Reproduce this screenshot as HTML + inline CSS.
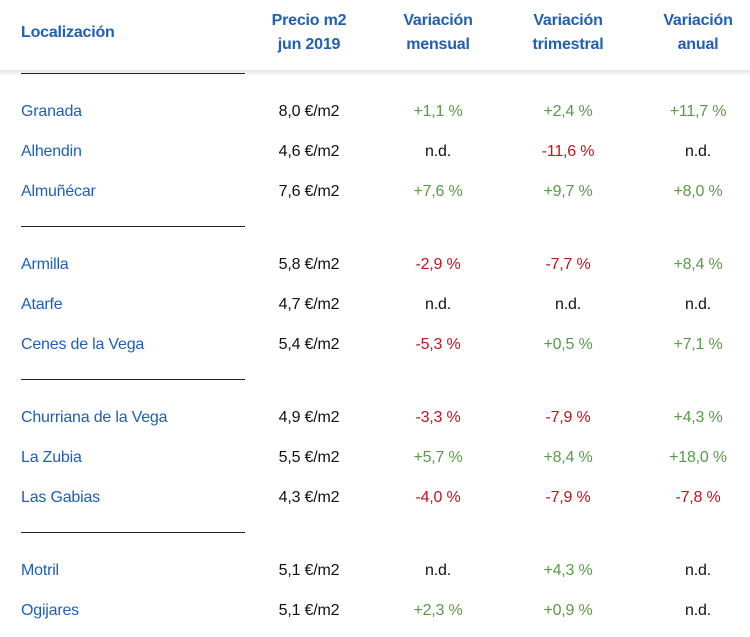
<!DOCTYPE html>
<html><head><meta charset="utf-8"><style>
body{margin:0;width:750px;height:637px;background:#fff;overflow:hidden;font-family:"Liberation Sans",sans-serif;font-size:16px;position:relative;letter-spacing:-0.2px}
.h{position:absolute;color:#1f5fb5;font-weight:bold;text-align:center;line-height:24px;width:140px}
.shadow{position:absolute;left:0;top:70px;width:750px;height:6px;background:linear-gradient(#e4e4e4,#fff)}
.ln{position:absolute;left:21px;width:224px;height:1px;background:#222}
.r{position:absolute;left:0;width:750px;height:20px;line-height:20px}
.r span{position:absolute;text-align:center;width:140px;top:0}
.r .n{left:21px;text-align:left;color:#1f5fb5;width:220px}
.c1{left:239px;color:#111}.c2{left:368px}.c3{left:498px}.c4{left:628px}
.g{color:#5a9a48}.d{color:#c0141c}.k{color:#111}
</style></head><body>
<div class="shadow"></div>
<div class="h" style="left:21px;top:21px;text-align:left">Localización</div>
<div class="h" style="left:239px;top:9px">Precio m2<br>jun 2019</div>
<div class="h" style="left:368px;top:9px">Variación<br>mensual</div>
<div class="h" style="left:498px;top:9px">Variación<br>trimestral</div>
<div class="h" style="left:628px;top:9px">Variación<br>anual</div>
<div class="ln" style="top:73px"></div>
<div class="ln" style="top:226px"></div>
<div class="ln" style="top:379px"></div>
<div class="ln" style="top:532px"></div>
<div class="r" style="top:102px"><span class="n">Granada</span><span class="c1">8,0 €/m2</span><span class="c2 g">+1,1 %</span><span class="c3 g">+2,4 %</span><span class="c4 g">+11,7 %</span></div>
<div class="r" style="top:142px"><span class="n">Alhendin</span><span class="c1">4,6 €/m2</span><span class="c2 k">n.d.</span><span class="c3 d">-11,6 %</span><span class="c4 k">n.d.</span></div>
<div class="r" style="top:182px"><span class="n">Almuñécar</span><span class="c1">7,6 €/m2</span><span class="c2 g">+7,6 %</span><span class="c3 g">+9,7 %</span><span class="c4 g">+8,0 %</span></div>
<div class="r" style="top:255px"><span class="n">Armilla</span><span class="c1">5,8 €/m2</span><span class="c2 d">-2,9 %</span><span class="c3 d">-7,7 %</span><span class="c4 g">+8,4 %</span></div>
<div class="r" style="top:295px"><span class="n">Atarfe</span><span class="c1">4,7 €/m2</span><span class="c2 k">n.d.</span><span class="c3 k">n.d.</span><span class="c4 k">n.d.</span></div>
<div class="r" style="top:335px"><span class="n">Cenes de la Vega</span><span class="c1">5,4 €/m2</span><span class="c2 d">-5,3 %</span><span class="c3 g">+0,5 %</span><span class="c4 g">+7,1 %</span></div>
<div class="r" style="top:408px"><span class="n">Churriana de la Vega</span><span class="c1">4,9 €/m2</span><span class="c2 d">-3,3 %</span><span class="c3 d">-7,9 %</span><span class="c4 g">+4,3 %</span></div>
<div class="r" style="top:448px"><span class="n">La Zubia</span><span class="c1">5,5 €/m2</span><span class="c2 g">+5,7 %</span><span class="c3 g">+8,4 %</span><span class="c4 g">+18,0 %</span></div>
<div class="r" style="top:488px"><span class="n">Las Gabias</span><span class="c1">4,3 €/m2</span><span class="c2 d">-4,0 %</span><span class="c3 d">-7,9 %</span><span class="c4 d">-7,8 %</span></div>
<div class="r" style="top:561px"><span class="n">Motril</span><span class="c1">5,1 €/m2</span><span class="c2 k">n.d.</span><span class="c3 g">+4,3 %</span><span class="c4 k">n.d.</span></div>
<div class="r" style="top:601px"><span class="n">Ogijares</span><span class="c1">5,1 €/m2</span><span class="c2 g">+2,3 %</span><span class="c3 g">+0,9 %</span><span class="c4 k">n.d.</span></div>
</body></html>
